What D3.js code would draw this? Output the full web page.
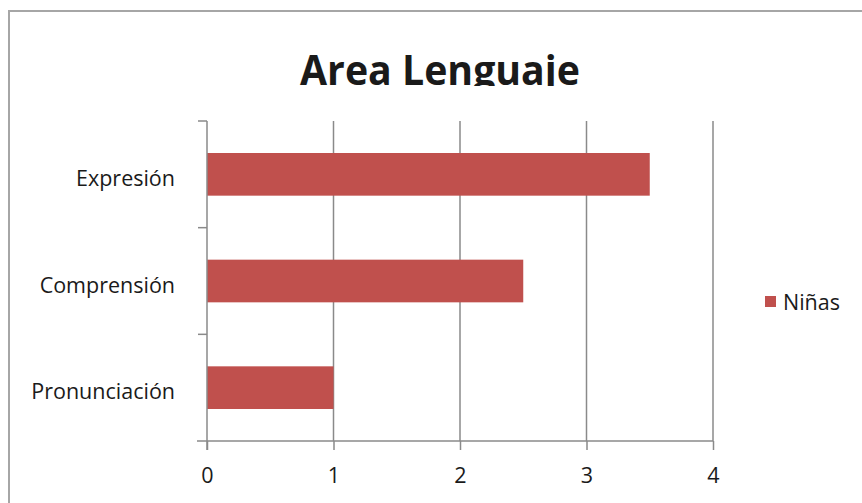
<!DOCTYPE html>
<html>
<head>
<meta charset="utf-8">
<script src="https://cdn.jsdelivr.net/npm/d3@7"></script>
<style>
  html, body { margin: 0; padding: 0; background: #fff; }
  svg { display: block; }
  text { font-family: "Open Sans", "Liberation Sans", sans-serif; fill: #1a1a1a; }
</style>
</head>
<body>
<svg id="chart" width="862" height="503"></svg>
<script>
// Category labels (top to bottom) and the values for the single series
const categories = ["Expresión", "Comprensión", "Pronunciación"];
const ninas = [3.5, 2.5, 1];
const xTicks = [0, 1, 2, 3, 4];
const seriesName = "Niñas";
const title = "Area Lenguaje";

const svg = d3.select("#chart");
const W = 862, H = 503;
const plot = { left: 207, right: 713, top: 121, bottom: 441 };
const barColor = "#C0504D";
const lineColor = "#8a8a8a";
const labelSize = 21.5;

// Outer frame of the chart area
svg.append("rect")
  .attr("x", 9).attr("y", 11)
  .attr("width", W + 20).attr("height", H + 20)
  .attr("fill", "#fff")
  .attr("stroke", "#a6a6a6").attr("stroke-width", 2);

// Title, cut off at the bottom edge of its box
svg.append("clipPath").attr("id", "titleClip")
  .append("rect").attr("x", 0).attr("y", 0).attr("width", W).attr("height", 86);
svg.append("text")
  .attr("clip-path", "url(#titleClip)")
  .attr("x", 440).attr("y", 85)
  .attr("text-anchor", "middle")
  .attr("font-size", 41).attr("font-weight", "bold")
  .attr("textLength", 280).attr("lengthAdjust", "spacingAndGlyphs")
  .text(title);

const x = d3.scaleLinear().domain([0, 4]).range([plot.left, plot.right]);
const y = d3.scaleBand().domain(categories).range([plot.top, plot.bottom]);
const barH = y.bandwidth() / 2.5;

// Vertical gridlines
svg.append("g").selectAll("line")
  .data(xTicks.filter(d => d > 0))
  .join("line")
  .attr("x1", d => x(d)).attr("x2", d => x(d))
  .attr("y1", plot.top).attr("y2", plot.bottom)
  .attr("stroke", lineColor).attr("stroke-width", 1.5);

// Bars
svg.append("g").selectAll("rect")
  .data(categories)
  .join("rect")
  .attr("x", x(0))
  .attr("y", (d) => y(d) + (y.bandwidth() - barH) / 2)
  .attr("width", (d, i) => x(ninas[i]) - x(0))
  .attr("height", barH)
  .attr("fill", barColor);

// Bottom axis
const xAxis = svg.append("g")
  .attr("transform", `translate(0,${plot.bottom})`)
  .call(d3.axisBottom(x).tickValues(xTicks).tickSize(9).tickPadding(18).tickFormat(d3.format("d")));
xAxis.select(".domain")
  .attr("d", `M${plot.left - 10},0H${plot.right}`)
  .attr("stroke", lineColor).attr("stroke-width", 1.5);
xAxis.selectAll(".tick line").attr("stroke", lineColor).attr("stroke-width", 1.5);
xAxis.selectAll(".tick text")
  .attr("font-size", labelSize).attr("fill", "#1a1a1a")
  .style("font-family", "'Open Sans', sans-serif");

// Left axis: ticks sit between categories
const yAxisG = svg.append("g");
yAxisG.append("line")
  .attr("x1", plot.left).attr("x2", plot.left)
  .attr("y1", plot.top).attr("y2", plot.bottom + 9)
  .attr("stroke", lineColor).attr("stroke-width", 1.5);
const bounds = categories.map(c => y(c)).concat([plot.bottom]);
yAxisG.selectAll(".sep")
  .data(bounds.slice(0, 3))
  .join("line")
  .attr("x1", plot.left - 9).attr("x2", plot.left)
  .attr("y1", d => d).attr("y2", d => d)
  .attr("stroke", lineColor).attr("stroke-width", 1.5);
yAxisG.selectAll("text")
  .data(categories)
  .join("text")
  .attr("x", 175)
  .attr("y", d => y(d) + y.bandwidth() / 2 + 4)
  .attr("dy", "0.35em")
  .attr("text-anchor", "end")
  .attr("font-size", labelSize)
  .text(d => d);

// Legend
const lg = svg.append("g").attr("transform", "translate(765,296)");
lg.append("rect").attr("width", 11).attr("height", 11).attr("fill", barColor);
lg.append("text").attr("x", 18).attr("y", 6).attr("dy", "0.35em")
  .attr("font-size", labelSize).text(seriesName);
</script>
</body>
</html>
